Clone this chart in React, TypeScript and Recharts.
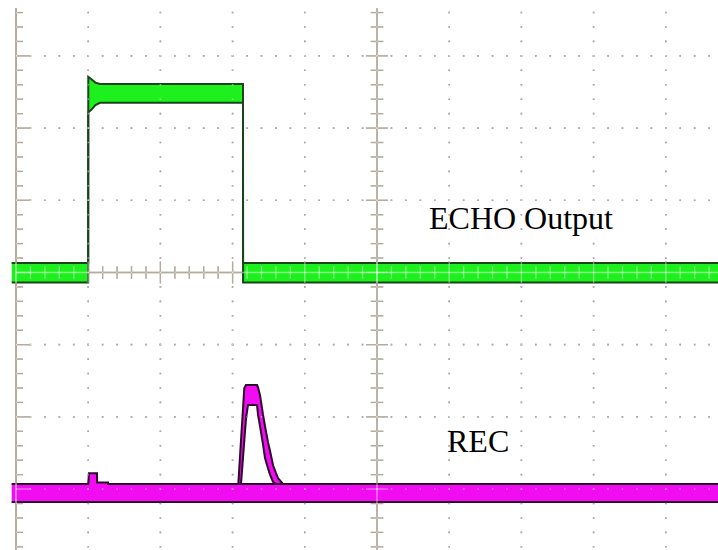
import React from "react";
import { ComposedChart, Area, XAxis, YAxis, ReferenceLine } from "recharts";

// time in divisions (0 = left graticule edge, 5 = centre), level in divisions (0 = centre line)
const echoT = [-0.06, 1.0, 1.001, 1.04, 1.1, 1.163, 3.144, 3.145, 9.75];
const echoLow = [-0.14, -0.14, 2.22, 2.25, 2.32, 2.35, 2.35, -0.14, -0.14];
const echoHigh = [0.13, 0.13, 2.71, 2.68, 2.63, 2.61, 2.61, 0.13, 0.13];

const recBaseT = [-0.06, 1.0, 1.011, 1.122, 1.123, 1.274, 1.275, 9.75];
const recBaseLow = [-3.18, -3.18, -3.18, -3.18, -3.18, -3.18, -3.18, -3.18];
const recBaseHigh = [-2.93, -2.93, -2.78, -2.78, -2.91, -2.91, -2.93, -2.93];

const recPulseT = [3.079, 3.116, 3.144, 3.162, 3.186, 3.213, 3.338, 3.352, 3.38, 3.421, 3.449, 3.49, 3.518, 3.56, 3.601, 3.629, 3.698];
const recPulseLow = [-2.93, -2.93, -2.57, -2.33, -2.02, -1.835, -1.835, -1.97, -2.13, -2.38, -2.57, -2.71, -2.8, -2.9, -2.93, -2.93, -2.93];
const recPulseHigh = [-2.93, -2.33, -1.89, -1.6, -1.56, -1.56, -1.56, -1.59, -1.7, -1.97, -2.13, -2.35, -2.47, -2.67, -2.78, -2.85, -2.93];

const labels = [
  { text: "ECHO Output", left: 429, top: 202 },
  { text: "REC", left: 447, top: 425 },
];

const X_DOMAIN: [number, number] = [-0.2216, 9.723];
const Y_DOMAIN: [number, number] = [-3.844, 3.774];
const TOP = 3.66; // solid axes start a little below the top edge

const toRows = (t: number[], lo: number[], hi: number[]) =>
  t.map((v, i) => ({ t: v, band: [lo[i], hi[i]] }));

const echoData = toRows(echoT, echoLow, echoHigh);
const recBaseData = toRows(recBaseT, recBaseLow, recBaseHigh);
const recPulseData = toRows(recPulseT, recPulseLow, recPulseHigh);

const steps = Array.from({ length: 39 }, (_, k) => -4 + 0.2 * (k + 1));
const hSteps = Array.from({ length: 49 }, (_, k) => 0.2 * (k + 1));
const isMajor = (v: number) => Math.abs(v - Math.round(v)) < 1e-6;

// drawn twice: dark under the traces, translucent white over them,
// so it reads grey on paper and pale on the traces
function graticule(layer: "under" | "over") {
  const over = layer === "over";
  const axis = over ? "#ffffff" : "#77684f";
  const dot = over ? "#ffffff" : "#646464";
  const op = over ? 0.45 : 1;
  const z = over ? 150 : -90;
  const out: React.ReactNode[] = [];
  const line = (key: string, x1: number, y1: number, x2: number, y2: number, stroke: string, w: number, dash?: boolean) =>
    out.push(
      <ReferenceLine
        key={layer + key}
        segment={[{ x: x1, y: y1 }, { x: x2, y: y2 }]}
        stroke={stroke}
        strokeWidth={w}
        strokeOpacity={op}
        strokeDasharray={dash ? "1.6 12.84" : undefined}
        strokeDashoffset={dash ? 0.8 : undefined}
        ifOverflow="visible"
        zIndex={z}
      />
    );

  [1, 2, 3, 4, 6, 7, 8, 9].forEach((t) => line("vx" + t, t, -4, t, 4, dot, 1.6, true));
  [-3, -2, -1, 1, 2, 3].forEach((v) => line("hy" + v, 0, v, 10, v, dot, 1.6, true));

  line("left", 0, -4, 0, TOP, axis, 2);
  line("cv", 5, -4, 5, TOP, axis, 1.5);
  line("ch", 0, 0, 10, 0, axis, 1.5);

  steps.forEach((v, i) => {
    if (v > TOP) return;
    const m = isMajor(v);
    line("lt" + i, 0, v, m ? 0.208 : 0.097, v, axis, 1.3);
    line("ct" + i, m ? 4.848 : 4.913, v, m ? 5.152 : 5.087, v, axis, 1.3);
  });
  hSteps.forEach((t, i) => {
    const m = isMajor(t);
    line("ht" + i, t, m ? -0.152 : -0.087, t, m ? 0.152 : 0.087, axis, 1.3);
  });
  return out;
}

export default function App() {
  return (
    <div
      style={{
        position: "absolute",
        left: 0,
        top: 0,
        width: 718,
        height: 550,
        overflow: "hidden",
        background: "#ffffff",
      }}
    >
      <ComposedChart width={718} height={550} margin={{ top: 0, right: 0, bottom: 0, left: 0 }}>
        <XAxis type="number" dataKey="t" domain={X_DOMAIN} allowDataOverflow hide />
        <YAxis type="number" domain={Y_DOMAIN} allowDataOverflow hide />
        {graticule("under")}
        <Area
          data={echoData}
          dataKey="band"
          type="linear"
          fill="#1ef01e"
          fillOpacity={1}
          stroke="#1a441a"
          strokeWidth={2}
          dot={false}
          activeDot={false}
          isAnimationActive={false}
        />
        <Area
          data={recBaseData}
          dataKey="band"
          type="linear"
          fill="#f20cf2"
          fillOpacity={1}
          stroke="#2e062e"
          strokeWidth={2}
          dot={false}
          activeDot={false}
          isAnimationActive={false}
        />
        <Area
          data={recPulseData}
          dataKey="band"
          type="linear"
          fill="#f20cf2"
          fillOpacity={1}
          stroke="#2e062e"
          strokeWidth={2}
          dot={false}
          activeDot={false}
          isAnimationActive={false}
        />
        {graticule("over")}
      </ComposedChart>
      {labels.map((l) => (
        <div
          key={l.text}
          style={{
            position: "absolute",
            left: l.left,
            top: l.top,
            fontFamily: '"Liberation Serif", "Times New Roman", serif',
            fontSize: 32,
            lineHeight: 1,
            color: "#000000",
            whiteSpace: "nowrap",
          }}
        >
          {l.text}
        </div>
      ))}
    </div>
  );
}
